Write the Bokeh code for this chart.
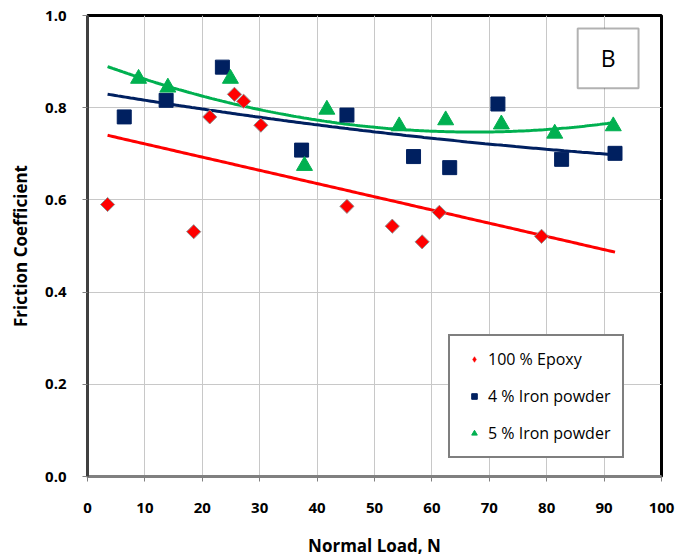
import numpy as np
from bokeh.plotting import figure
from bokeh.models import Legend, LegendItem, BoxAnnotation, Label, FixedTicker, CustomJSTickFormatter
from bokeh.embed import file_html
from bokeh.resources import INLINE

# ---- data ----
epoxy_load = [3.5, 18.5, 21.3, 25.6, 27.2, 30.2, 45.2, 53.1, 58.3, 61.3, 79.1]
epoxy_cof  = [0.590, 0.531, 0.780, 0.829, 0.814, 0.762, 0.586, 0.543, 0.509, 0.573, 0.521]

iron4_load = [6.4, 13.7, 23.5, 37.3, 45.2, 56.8, 63.1, 71.5, 82.6, 91.9]
iron4_cof  = [0.780, 0.816, 0.888, 0.708, 0.784, 0.694, 0.670, 0.808, 0.688, 0.701]

iron5_load = [8.9, 14.0, 24.9, 37.8, 41.7, 54.3, 62.4, 72.1, 81.4, 91.6]
iron5_cof  = [0.863, 0.844, 0.863, 0.674, 0.796, 0.760, 0.773, 0.764, 0.744, 0.760]

series_names = ["100 % Epoxy", "4 % Iron powder", "5 % Iron powder"]
trend_degree = [1, 2, 2]

x_ticks = [0, 10, 20, 30, 40, 50, 60, 70, 80, 90, 100]
y_ticks = [0.0, 0.2, 0.4, 0.6, 0.8, 1.0]

RED = "#ff0000"
NAVY = "#002060"
GREEN = "#00b050"
FONT = "Open Sans"

p = figure(width=682, height=560, output_backend="svg", toolbar_location=None,
           x_range=(0, 100), y_range=(0, 1.0),
           min_border_left=87, min_border_right=21, min_border_top=15, min_border_bottom=84)

p.outline_line_color = "black"
p.outline_line_width = 3
p.background_fill_color = "white"
p.border_fill_color = "white"

p.xgrid.grid_line_color = "#c8c8c8"
p.ygrid.grid_line_color = "#c8c8c8"
p.xgrid.grid_line_width = 1
p.ygrid.grid_line_width = 1

p.xaxis.ticker = FixedTicker(ticks=x_ticks)
p.yaxis.ticker = FixedTicker(ticks=y_ticks)
p.xaxis.minor_tick_line_color = None
p.yaxis.minor_tick_line_color = None
p.yaxis.formatter = CustomJSTickFormatter(code="return tick.toFixed(1);")

for ax in (p.xaxis, p.yaxis):
    ax.major_label_text_font = FONT
    ax.major_label_text_font_style = "bold"
    ax.major_label_text_font_size = "15px"
    ax.major_label_text_color = "black"
    ax.major_tick_line_color = "#808080"
    ax.major_tick_line_width = 1
    ax.major_tick_out = 5
    ax.major_tick_in = 0
    ax.axis_label_text_font = FONT
    ax.axis_label_text_font_style = "bold"
    ax.axis_label_text_color = "black"
    ax.axis_label_text_font_size = "17px"

p.xaxis.axis_line_color = "#808080"
p.xaxis.axis_line_width = 3
p.yaxis.axis_line_color = "#404040"
p.yaxis.axis_line_width = 3

p.xaxis.major_label_standoff = 21
p.yaxis.major_label_standoff = 16
p.xaxis.axis_label = "Normal Load, N"
p.yaxis.axis_label = "Friction Coefficient"
p.xaxis.axis_label_standoff = 18
p.yaxis.axis_label_standoff = 10

all_x = epoxy_load + iron4_load + iron5_load
xfit = np.linspace(min(all_x), max(all_x), 200)

series = [
    (epoxy_load, epoxy_cof, RED, "square", 10, np.pi / 4),
    (iron4_load, iron4_cof, NAVY, "square", 14, 0.0),
    (iron5_load, iron5_cof, GREEN, "triangle", 16, 0.0),
]

for (xs, ys, col, mk, sz, ang), deg in zip(series, trend_degree):
    coef = np.polyfit(xs, ys, deg)
    p.line(xfit, np.polyval(coef, xfit), line_color=col, line_width=3)

# diamond-shaped key for the legend (drawn beneath the rotated squares, so hidden on the plot)
diamond_key = p.scatter(epoxy_load, epoxy_cof, marker="diamond", size=13, fill_color=RED,
                        line_color=RED, line_width=0.5)

marker_renderers = []
for (xs, ys, col, mk, sz, ang) in series:
    edge = "#909090" if ang else col
    r = p.scatter(xs, ys, marker=mk, size=sz, angle=ang, fill_color=col,
                  line_color=edge, line_width=1)
    marker_renderers.append(r)

legend_renderers = [diamond_key, marker_renderers[1], marker_renderers[2]]

legend = Legend(items=[LegendItem(label=n, renderers=[r]) for n, r in zip(series_names, legend_renderers)],
                location=(361, 18), orientation="vertical",
                border_line_color="black", border_line_width=2,
                background_fill_color="white", background_fill_alpha=1.0,
                label_text_font=FONT, label_text_font_size="16px",
                label_text_color="black",
                padding=12, spacing=15, label_height=20, glyph_height=14, glyph_width=24,
                label_standoff=2, margin=0)
p.add_layout(legend)

# panel letter box
p.add_layout(BoxAnnotation(left=85.4, right=96.0, bottom=0.842, top=0.972,
                           fill_color="white", fill_alpha=1.0,
                           line_color="black", line_width=2))
p.add_layout(Label(x=90.7, y=0.907, text="B", text_align="center", text_baseline="middle",
                   text_font=FONT, text_font_size="23px", text_color="black"))

open("out.html", "w").write(file_html(p, INLINE))
